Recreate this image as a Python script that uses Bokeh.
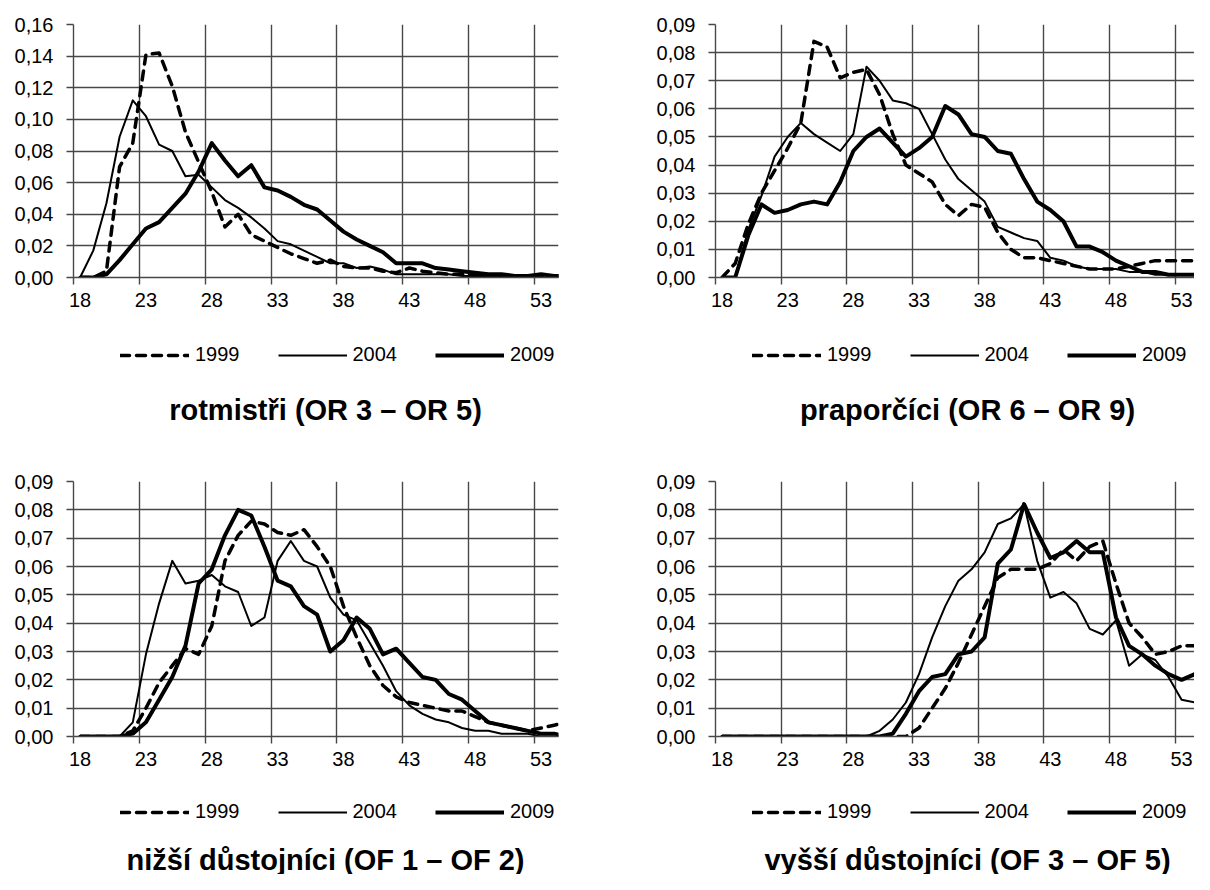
from bokeh.plotting import figure
from bokeh.layouts import row, column
from bokeh.models import (FixedTicker, CustomJSTickFormatter, Range1d, Legend,
                          LegendItem, Label)
from bokeh.embed import file_html
from bokeh.resources import INLINE

# ---------------- data (ages 18..55) ----------------
ages = list(range(18, 56))
series_years = ["1999", "2004", "2009"]

rot_1999 = [0, 0, 0.004, 0.070, 0.085, 0.141, 0.142, 0.121, 0.092, 0.073, 0.054, 0.032, 0.040,
            0.027, 0.023, 0.019, 0.015, 0.012, 0.009, 0.011, 0.007, 0.006, 0.006, 0.004, 0.003,
            0.006, 0.004, 0.003, 0.002, 0.002, 0.002, 0.001, 0.001, 0.001, 0.001, 0.001, 0.001, 0.001]
rot_2004 = [0, 0.017, 0.047, 0.089, 0.112, 0.102, 0.084, 0.080, 0.064, 0.065, 0.057, 0.049, 0.044,
            0.038, 0.031, 0.023, 0.021, 0.017, 0.013, 0.009, 0.009, 0.006, 0.007, 0.005, 0.002,
            0.002, 0.002, 0.002, 0.002, 0.001, 0.001, 0.001, 0.001, 0.001, 0.0, 0.0, 0.0, 0.0]
rot_2009 = [0, 0, 0.002, 0.011, 0.021, 0.031, 0.035, 0.044, 0.053, 0.067, 0.085, 0.074, 0.064,
            0.071, 0.057, 0.055, 0.051, 0.046, 0.043, 0.036, 0.029, 0.024, 0.020, 0.016, 0.009,
            0.009, 0.009, 0.006, 0.005, 0.004, 0.003, 0.002, 0.002, 0.001, 0.001, 0.002, 0.001, 0.001]

pra_1999 = [0, 0.005, 0.019, 0.030, 0.038, 0.046, 0.055, 0.084, 0.082, 0.071, 0.073, 0.074, 0.065,
            0.051, 0.040, 0.037, 0.034, 0.026, 0.022, 0.026, 0.025, 0.016, 0.010, 0.007, 0.007,
            0.006, 0.005, 0.004, 0.003, 0.003, 0.003, 0.004, 0.005, 0.006, 0.006, 0.006, 0.006, 0.006]
pra_2004 = [0, 0, 0.017, 0.029, 0.043, 0.050, 0.055, 0.051, 0.048, 0.045, 0.051, 0.075, 0.070,
            0.063, 0.062, 0.060, 0.051, 0.042, 0.035, 0.031, 0.027, 0.018, 0.016, 0.014, 0.013,
            0.007, 0.006, 0.004, 0.003, 0.003, 0.003, 0.002, 0.002, 0.001, 0.001, 0.001, 0.001, 0.001]
pra_2009 = [0, 0, 0.015, 0.026, 0.023, 0.024, 0.026, 0.027, 0.026, 0.034, 0.045, 0.050, 0.053,
            0.048, 0.043, 0.046, 0.050, 0.061, 0.058, 0.051, 0.050, 0.045, 0.044, 0.035, 0.027,
            0.024, 0.020, 0.011, 0.011, 0.009, 0.006, 0.004, 0.002, 0.002, 0.001, 0.001, 0.001, 0.001]

niz_1999 = [0, 0, 0, 0, 0.002, 0.010, 0.019, 0.025, 0.031, 0.029, 0.039, 0.062, 0.071,
            0.076, 0.075, 0.072, 0.071, 0.073, 0.067, 0.060, 0.046, 0.035, 0.025, 0.018, 0.014,
            0.012, 0.011, 0.010, 0.009, 0.009, 0.007, 0.005, 0.004, 0.003, 0.002, 0.003, 0.004, 0.005]
niz_2004 = [0, 0, 0, 0, 0.005, 0.029, 0.047, 0.062, 0.054, 0.055, 0.057, 0.053, 0.051,
            0.039, 0.042, 0.062, 0.069, 0.062, 0.060, 0.049, 0.043, 0.041, 0.033, 0.025, 0.016,
            0.011, 0.008, 0.006, 0.005, 0.003, 0.002, 0.002, 0.001, 0.001, 0.001, 0.0, 0.0, 0.0]
niz_2009 = [0, 0, 0, 0, 0.001, 0.005, 0.013, 0.021, 0.032, 0.054, 0.059, 0.071, 0.080,
            0.078, 0.067, 0.055, 0.053, 0.046, 0.043, 0.030, 0.034, 0.042, 0.038, 0.029, 0.031,
            0.026, 0.021, 0.020, 0.015, 0.013, 0.009, 0.005, 0.004, 0.003, 0.002, 0.001, 0.001, 0.0]

vys_1999 = [0, 0, 0, 0, 0, 0, 0, 0, 0, 0, 0, 0, 0, 0, 0, 0.003, 0.010, 0.017, 0.026, 0.036,
            0.046, 0.056, 0.059, 0.059, 0.059, 0.061, 0.066, 0.062, 0.067, 0.069, 0.054, 0.040,
            0.035, 0.029, 0.030, 0.032, 0.032, 0.025]
vys_2004 = [0, 0, 0, 0, 0, 0, 0, 0, 0, 0, 0, 0, 0.002, 0.006, 0.012, 0.022, 0.035, 0.046,
            0.055, 0.059, 0.065, 0.075, 0.077, 0.082, 0.062, 0.049, 0.051, 0.047, 0.038, 0.036,
            0.041, 0.025, 0.029, 0.027, 0.021, 0.013, 0.012, 0.008]
vys_2009 = [0, 0, 0, 0, 0, 0, 0, 0, 0, 0, 0, 0, 0, 0.001, 0.008, 0.016, 0.021, 0.022, 0.029,
            0.030, 0.035, 0.061, 0.066, 0.082, 0.072, 0.063, 0.065, 0.069, 0.065, 0.065, 0.042,
            0.032, 0.029, 0.025, 0.022, 0.020, 0.022, 0.012]

titles = ["rotmistři (OR 3 – OR 5)", "praporčíci (OR 6 – OR 9)",
          "nižší důstojníci (OF 1 – OF 2)", "vyšší důstojníci (OF 3 – OF 5)"]
y_max = [0.16, 0.09, 0.09, 0.09]
y_step = [0.02, 0.01, 0.01, 0.01]
x_label_ticks = [18, 23, 28, 33, 38, 43, 48, 53]

FONT = "Liberation Sans"
GRID = "#474747"
LINE_STYLES = [dict(line_width=3.5, line_dash="9 7", line_cap="round", line_join="round"),
               dict(line_width=2.0, line_join="round"),
               dict(line_width=4.0, line_join="round")]


def make_chart(vals, ymax, ystep, left_side, top_row):
    width = 600 if left_side else 594
    bl = 73 if left_side else 115
    br = 42 if left_side else 0
    bt = 24
    fh = 253 if top_row else 255
    bb = 40
    height = bt + fh + bb
    fw = width - bl - br
    px_per_year = 13.17 if left_side else 13.13
    x_end = 17.5 + fw / px_per_year

    p = figure(width=width, height=height, output_backend="svg", toolbar_location=None,
               x_range=Range1d(17.5, x_end), y_range=Range1d(0, ymax),
               min_border_left=bl, min_border_right=br, min_border_top=bt,
               min_border_bottom=bb, title_location=None, frame_align=False)
    p.outline_line_color = None
    p.background_fill_color = "white"
    p.border_fill_color = "white"

    bounds = [17.5 + 5 * i for i in range(8)]
    p.xaxis.ticker = FixedTicker(ticks=x_label_ticks, minor_ticks=bounds)
    p.xaxis.major_tick_line_color = None
    p.xaxis.major_tick_out = 7
    p.xaxis.major_tick_in = 0
    p.xaxis.minor_tick_out = 7
    p.xaxis.minor_tick_in = 0
    p.xaxis.minor_tick_line_color = GRID
    p.xaxis.minor_tick_line_width = 1.4
    p.xaxis.major_label_standoff = 8
    p.xgrid.ticker = FixedTicker(ticks=bounds)

    nt = int(round(ymax / ystep))
    yt = [round(i * ystep, 2) for i in range(nt + 1)]
    p.yaxis.ticker = FixedTicker(ticks=yt)
    p.yaxis.formatter = CustomJSTickFormatter(code="return tick.toFixed(2).replace('.', ',');")
    p.yaxis.major_tick_out = 7
    p.yaxis.major_tick_in = 0
    p.yaxis.minor_tick_line_color = None
    p.yaxis.major_tick_line_color = GRID
    p.yaxis.major_tick_line_width = 1.4
    p.yaxis.major_label_standoff = 13

    for ax in (p.xaxis, p.yaxis):
        ax.axis_line_color = GRID
        ax.axis_line_width = 1.4
        ax.major_label_text_font = FONT
        ax.major_label_text_font_size = "20px"
        ax.major_label_text_color = "black"

    for g in (p.xgrid, p.ygrid):
        g.grid_line_color = GRID
        g.grid_line_width = 1.4

    for v, st in zip(vals, LINE_STYLES):
        p.line(ages, v, line_color="black", **st)
    return p


def make_footer(title, left_side, top_row):
    width = 600 if left_side else 594
    height = 140 if top_row else 98
    axis_x = 73 if left_side else 115
    f = figure(width=width, height=height, output_backend="svg", toolbar_location=None,
               x_range=Range1d(0, 1), y_range=Range1d(0, 1), x_axis_type=None,
               y_axis_type=None, min_border=0, min_border_left=0, min_border_right=0,
               min_border_top=0, min_border_bottom=0, title_location=None,
               frame_align=False)
    f.outline_line_color = None
    f.grid.visible = False
    # legend samples: renderers with data kept outside the visible range
    rs = [f.line([-5, -4], [-5, -5], line_color="black", **st) for st in LINE_STYLES]
    legend_center = 38 if top_row else 36
    legend_x = axis_x + (47 if left_side else 37)
    legend = Legend(items=[LegendItem(label=y, renderers=[r]) for y, r in zip(series_years, rs)],
                    location=(legend_x, height - legend_center - 11),
                    orientation="horizontal",
                    glyph_width=69, glyph_height=22, label_height=22,
                    label_standoff=6, spacing=38, padding=0, margin=0,
                    border_line_color=None, background_fill_alpha=0,
                    label_text_font=FONT, label_text_font_size="20px",
                    label_text_color="black")
    f.add_layout(legend)
    title_mid = 92 if top_row else 83
    f.add_layout(Label(x=axis_x + 252, y=height - title_mid, x_units="screen", y_units="screen",
                       text=title, text_align="center", text_baseline="middle",
                       text_font=FONT, text_font_size="29px", text_font_style="bold",
                       text_color="black"))
    return f


p1 = make_chart((rot_1999, rot_2004, rot_2009), y_max[0], y_step[0], True, True)
p2 = make_chart((pra_1999, pra_2004, pra_2009), y_max[1], y_step[1], False, True)
p3 = make_chart((niz_1999, niz_2004, niz_2009), y_max[2], y_step[2], True, False)
p4 = make_chart((vys_1999, vys_2004, vys_2009), y_max[3], y_step[3], False, False)
f1 = make_footer(titles[0], True, True)
f2 = make_footer(titles[1], False, True)
f3 = make_footer(titles[2], True, False)
f4 = make_footer(titles[3], False, False)

layout = column(row(column(p1, f1), column(p2, f2)),
                row(column(p3, f3), column(p4, f4)))

open("out.html", "w").write(file_html(layout, INLINE))
